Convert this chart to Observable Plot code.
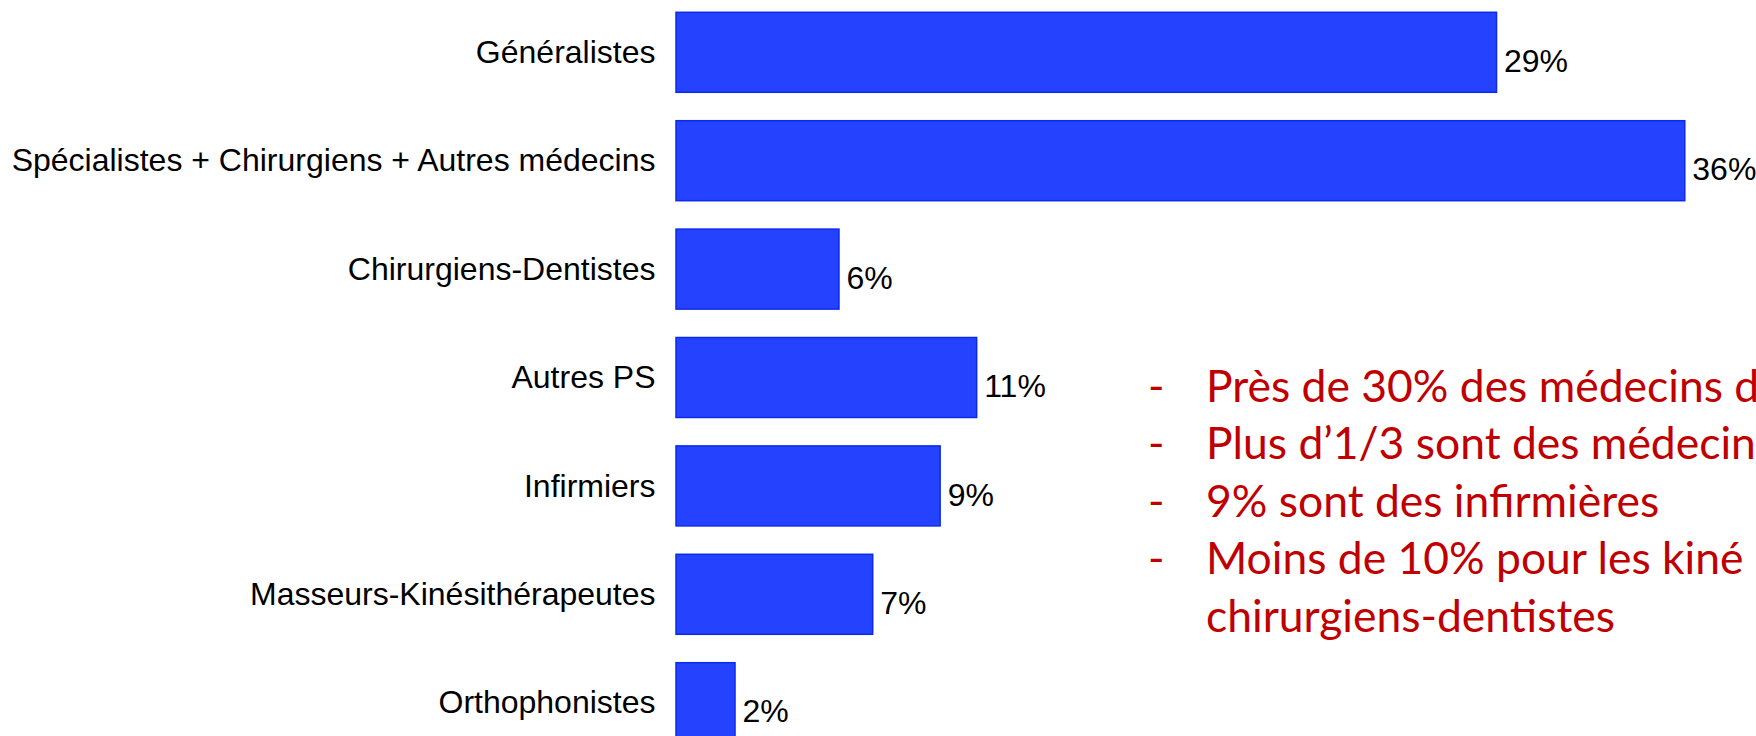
<!DOCTYPE html>
<html>
<head>
<meta charset="utf-8">
<script src="https://cdn.jsdelivr.net/npm/d3@7"></script>
<script src="https://cdn.jsdelivr.net/npm/@observablehq/plot@0.6"></script>
<style>
  html, body { margin: 0; padding: 0; background: white; overflow: hidden; width: 1756px; height: 736px; }
  #wrap { position: relative; width: 1756px; height: 736px; overflow: hidden; }
  #chart { position: absolute; left: 0; top: 0; }
  #note { position: absolute; left: 0; top: 0; }
</style>
</head>
<body>
<div id="wrap">
  <div id="chart"></div>
  <svg id="note" width="1756" height="736"></svg>
</div>
<script>
// ---- data ----
const categories = [
  "Généralistes",
  "Spécialistes + Chirurgiens + Autres médecins",
  "Chirurgiens-Dentistes",
  "Autres PS",
  "Infirmiers",
  "Masseurs-Kinésithérapeutes",
  "Orthophonistes"
];
const values = [29.2, 35.9, 5.8, 10.7, 9.4, 7.0, 2.1];
const valueLabels = ["29%", "36%", "6%", "11%", "9%", "7%", "2%"];

// annotation text as visible in the reference (cut at the right edge)
const noteBullets = ["-", "-", "-", "-", ""];
const noteTexts = [
  "Près de 30% des médecins d",
  "Plus d’1/3 sont des médecins",
  "9% sont des infirmières",
  "Moins de 10% pour les kiné",
  "chirurgiens-dentistes"
];

const data = categories.map((c, i) => ({ cat: c, value: values[i], label: valueLabels[i] }));

const labelFont = "'Liberation Sans', Arial, sans-serif";
const labelSize = 32;

const chart = Plot.plot({
  width: 1756,
  height: 755,
  marginTop: 0,
  marginBottom: 0,
  marginLeft: 676,
  marginRight: 0,
  style: { fontFamily: labelFont, fontSize: labelSize + "px", color: "black", background: "white" },
  x: { domain: [0, 1080 / 28.1], axis: null },
  y: { domain: categories, paddingInner: 0.262, paddingOuter: 0.1135, round: false, label: null, axis: null },
  marks: [
    Plot.barX(data, { x: "value", y: "cat", fill: "#2442FF", stroke: "#0A2BEA", strokeWidth: 1.5 }),
    Plot.text(data, { x: "value", y: "cat", text: "label", textAnchor: "start", dx: 7, dy: 9,
                      fill: "black", fontSize: labelSize, fontFamily: labelFont }),
    Plot.axisY({ tickSize: 0, tickPadding: 21, label: null, fontSize: labelSize, fontFamily: labelFont, fill: "black" })
  ]
});
document.getElementById("chart").appendChild(chart);

// ---- annotation (red text) ----
const noteFont = "Lato, 'Open Sans', sans-serif";
const ctx = document.createElement("canvas").getContext("2d");
ctx.font = `100px ${noteFont}`;
const ref = ctx.measureText("chirurgiens-dentistes").width;
const noteSize = 100 * 409 / ref;

const note = d3.select("#note");
const baseline0 = 402, lineGap = 57.4, textX = 1206, bulletX = 1148;
noteTexts.forEach((t, i) => {
  const y = baseline0 + i * lineGap;
  if (noteBullets[i]) {
    note.append("text").attr("x", bulletX).attr("y", y)
      .attr("font-family", noteFont).attr("font-size", noteSize).attr("fill", "#C00000")
      .text(noteBullets[i]);
  }
  note.append("text").attr("x", textX).attr("y", y)
    .attr("font-family", noteFont).attr("font-size", noteSize).attr("fill", "#C00000")
    .style("white-space", "pre")
    .text(t);
});
</script>
</body>
</html>
